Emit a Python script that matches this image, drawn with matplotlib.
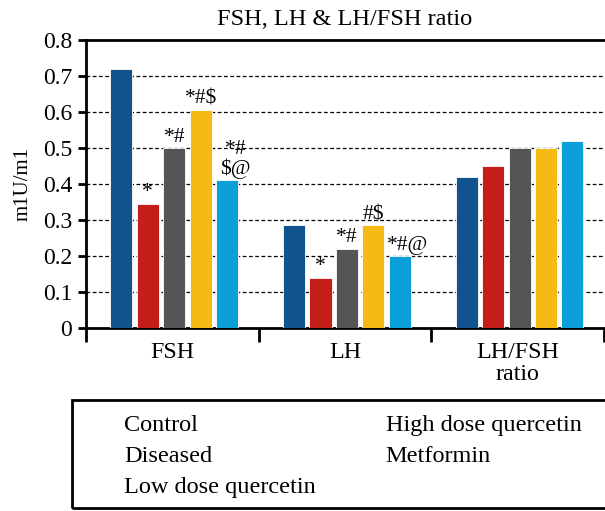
import matplotlib
matplotlib.use("Agg")
import matplotlib.pyplot as plt
from matplotlib.patches import Patch, Rectangle
import numpy as np

plt.rcParams['font.family'] = ['Liberation Serif', 'DejaVu Serif']

categories = ["FSH", "LH", "LH/FSH\nratio"]
groups = ["Control", "Diseased", "Low dose quercetin", "High dose quercetin", "Metformin"]
control = [0.72, 0.285, 0.42]
diseased = [0.345, 0.14, 0.45]
low_dose = [0.50, 0.22, 0.50]
high_dose = [0.605, 0.285, 0.50]
metformin = [0.41, 0.20, 0.52]
series = [control, diseased, low_dose, high_dose, metformin]
colors = ["#11528F", "#C41E1A", "#555555", "#F5BB14", "#0A9FD9"]
sig_labels = [
    ["", "", ""],
    ["*", "*", ""],
    ["*#", "*#", ""],
    ["*#$", "#$", ""],
    ["*#\n$@", "*#@", ""],
]
yticks = [0, 0.1, 0.2, 0.3, 0.4, 0.5, 0.6, 0.7, 0.8]
ytick_labels = ["0", "0.1", "0.2", "0.3", "0.4", "0.5", "0.6", "0.7", "0.8"]

fig = plt.figure(figsize=(6.05, 5.11), dpi=100)
ax = fig.add_axes([86/605, 1 - 328/511, 518/605, 288/511])

step = 0.153
width = 0.128
centers = np.arange(len(categories)) + 0.5 + 0.011
for j, (vals, col, labs) in enumerate(zip(series, colors, sig_labels)):
    x = centers + (j - 2) * step
    ax.bar(x, vals, width=width, color=col, edgecolor="white", linewidth=0.6, zorder=3)
    dx = 6 if j == 4 else 0
    for xi, v, lab in zip(x, vals, labs):
        if lab:
            ax.annotate(lab, (xi, v), xytext=(dx, 1), textcoords="offset points",
                        ha="center", va="bottom", fontsize=15.5, linespacing=0.95, zorder=4)

ax.set_xlim(0, 3)
ax.set_ylim(0, 0.8)
ax.set_yticks(yticks)
ax.set_yticklabels(ytick_labels, fontsize=17)
for y in yticks[1:-1]:
    ax.axhline(y, color="black", linewidth=0.9, linestyle=(0, (3, 2)), zorder=1)

ax.set_xticks([0, 1, 2, 3])
ax.set_xticklabels([])
ax.set_xticks(centers - 0.011, minor=True)
ax.set_xticklabels(categories, minor=True, fontsize=17.3, linespacing=1.1)
ax.tick_params(axis="x", which="major", direction="out", length=10, width=2)
ax.tick_params(axis="x", which="minor", length=0, pad=10)
ax.tick_params(axis="y", direction="out", length=6, width=2, pad=4)

for s in ["left", "top", "bottom"]:
    ax.spines[s].set_linewidth(2)
ax.spines["right"].set_visible(False)

ax.set_ylabel("m1U/m1", fontsize=15, labelpad=7.5)
ax.set_title("FSH, LH & LH/FSH ratio", fontsize=17.6, pad=11)

handles = [Patch(facecolor="none", edgecolor="none") for _ in groups]
leg = fig.legend(handles, groups, loc="lower left", ncol=2,
                 bbox_to_anchor=(72/605, 1/511), bbox_transform=fig.transFigure,
                 fontsize=17.5, frameon=False, handlelength=1.19, handletextpad=0.45,
                 columnspacing=1.24, borderpad=0.5, labelspacing=0.375,
                 borderaxespad=0)
# legend frame extends past the right edge, as in the cropped original
fig.patches.append(Rectangle((72/605, 3/511), 560/605, 108/511, transform=fig.transFigure,
                             facecolor="none", edgecolor="black", linewidth=2, zorder=0))

fig.savefig("out.png", dpi=100)
